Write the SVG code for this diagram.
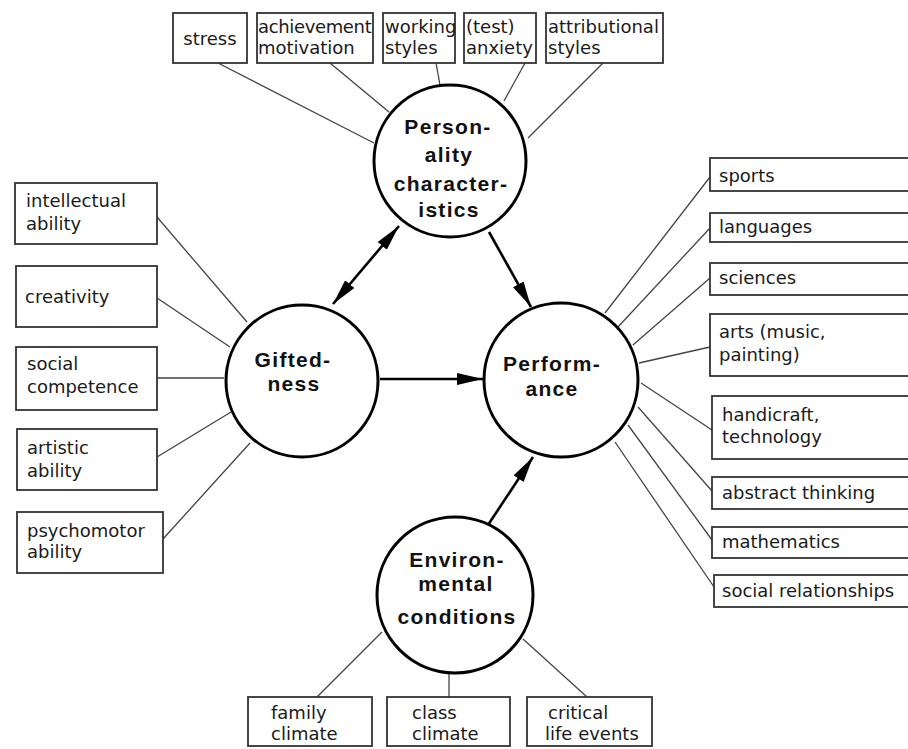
<svg xmlns="http://www.w3.org/2000/svg" width="908" height="749" viewBox="0 0 908 749">
<defs>
<style>
.box{fill:#fff;stroke:#333;stroke-width:1.8}
.t{font-family:"DejaVu Sans",sans-serif;font-size:18px;fill:#1a1a1a}
.c{fill:#fff;stroke:#000;stroke-width:3}
.ct{font-family:"Liberation Sans",Arial,sans-serif;font-size:21px;letter-spacing:1.3px;font-weight:bold;fill:#111;text-anchor:middle}
.ln{stroke:#444;stroke-width:1.3;fill:none}
.ar{stroke:#000;stroke-width:2.6;fill:none}
</style>
<marker id="ah" markerUnits="userSpaceOnUse" markerWidth="26" markerHeight="12" refX="26" refY="6" orient="auto-start-reverse">
<path d="M0,0 L26,6 L0,12 Z" fill="#000"/>
</marker>
</defs>
<rect width="908" height="749" fill="#fff"/>

<g id="connectors">
<line class="ln" x1="218" y1="63" x2="374" y2="143"/>
<line class="ln" x1="330" y1="63" x2="389" y2="112"/>
<line class="ln" x1="436" y1="63" x2="440" y2="85"/>
<line class="ln" x1="525" y1="63" x2="504" y2="101"/>
<line class="ln" x1="603" y1="63" x2="528" y2="138"/>
<line class="ln" x1="157" y1="217" x2="247" y2="322"/>
<line class="ln" x1="157" y1="298" x2="230" y2="347"/>
<line class="ln" x1="157" y1="378" x2="224" y2="378"/>
<line class="ln" x1="157" y1="457" x2="231" y2="412"/>
<line class="ln" x1="163" y1="539" x2="250" y2="443"/>
<line class="ln" x1="710" y1="177" x2="605" y2="313"/>
<line class="ln" x1="710" y1="228" x2="618" y2="327"/>
<line class="ln" x1="710" y1="278" x2="633" y2="345"/>
<line class="ln" x1="710" y1="347" x2="639" y2="363"/>
<line class="ln" x1="712" y1="430" x2="641" y2="383"/>
<line class="ln" x1="712" y1="491" x2="638" y2="407"/>
<line class="ln" x1="712" y1="540" x2="628" y2="425"/>
<line class="ln" x1="714" y1="587" x2="615" y2="442"/>
<line class="ln" x1="317" y1="697" x2="382" y2="632"/>
<line class="ln" x1="449" y1="697" x2="449" y2="673"/>
<line class="ln" x1="587" y1="697" x2="523" y2="639"/>
<line class="ar" x1="380" y1="379" x2="483" y2="379" marker-end="url(#ah)"/>
<line class="ar" x1="333" y1="304" x2="399" y2="226" marker-start="url(#ah)" marker-end="url(#ah)"/>
<line class="ar" x1="489" y1="232" x2="531" y2="307" marker-end="url(#ah)"/>
<line class="ar" x1="488" y1="525" x2="533" y2="457" marker-end="url(#ah)"/>
</g>

<g id="stress"><rect class="box" x="173" y="13" width="74" height="50"/><text class="t" x="210" y="45" text-anchor="middle">stress</text></g>
<g id="achievement"><rect class="box" x="257" y="13" width="116" height="50"/><text class="t" x="258" y="33" letter-spacing="-0.35">achievement</text><text class="t" x="258" y="54">motivation</text></g>
<g id="working"><rect class="box" x="383" y="13" width="72" height="50"/><text class="t" x="385" y="33">working</text><text class="t" x="385" y="54">styles</text></g>
<g id="anxiety"><rect class="box" x="464" y="13" width="72" height="50"/><text class="t" x="466" y="33">(test)</text><text class="t" x="466" y="54">anxiety</text></g>
<g id="attributional"><rect class="box" x="546" y="13" width="117" height="50"/><text class="t" x="548" y="33">attributional</text><text class="t" x="548" y="54">styles</text></g>

<g id="intellectual"><rect class="box" x="15" y="183" width="142" height="61"/><text class="t" x="26" y="207">intellectual</text><text class="t" x="26" y="230">ability</text></g>
<g id="creativity"><rect class="box" x="16" y="266" width="141" height="61"/><text class="t" x="25" y="303">creativity</text></g>
<g id="social-competence"><rect class="box" x="16" y="347" width="141" height="63"/><text class="t" x="27" y="370">social</text><text class="t" x="27" y="393">competence</text></g>
<g id="artistic"><rect class="box" x="17" y="429" width="140" height="61"/><text class="t" x="27" y="454">artistic</text><text class="t" x="27" y="477">ability</text></g>
<g id="psychomotor"><rect class="box" x="17" y="512" width="146" height="61"/><text class="t" x="27" y="537">psychomotor</text><text class="t" x="27" y="558">ability</text></g>

<g id="sports"><rect class="box" x="710" y="158" width="202" height="33"/><text class="t" x="719" y="182">sports</text></g>
<g id="languages"><rect class="box" x="710" y="213" width="202" height="29"/><text class="t" x="719" y="233">languages</text></g>
<g id="sciences"><rect class="box" x="710" y="263" width="202" height="32"/><text class="t" x="719" y="284">sciences</text></g>
<g id="arts"><rect class="box" x="710" y="314" width="202" height="62"/><text class="t" x="719" y="338">arts (music,</text><text class="t" x="719" y="361">painting)</text></g>
<g id="handicraft"><rect class="box" x="712" y="396" width="200" height="63"/><text class="t" x="722" y="421">handicraft,</text><text class="t" x="722" y="443">technology</text></g>
<g id="abstract"><rect class="box" x="712" y="477" width="200" height="32"/><text class="t" x="722" y="499">abstract thinking</text></g>
<g id="mathematics"><rect class="box" x="712" y="527" width="200" height="31"/><text class="t" x="722" y="548">mathematics</text></g>
<g id="social-relationships"><rect class="box" x="714" y="575" width="198" height="32"/><text class="t" x="722" y="597">social relationships</text></g>

<g id="family"><rect class="box" x="248" y="697" width="124" height="49"/><text class="t" x="271" y="719">family</text><text class="t" x="271" y="740">climate</text></g>
<g id="class"><rect class="box" x="387" y="697" width="123" height="49"/><text class="t" x="412" y="719">class</text><text class="t" x="412" y="740">climate</text></g>
<g id="critical"><rect class="box" x="527" y="697" width="125" height="49"/><text class="t" x="548" y="719">critical</text><text class="t" x="545" y="740">life events</text></g>

<g id="personality"><circle class="c" cx="450" cy="161" r="76"/><text class="ct" x="448" y="134">Person-</text><text class="ct" x="449" y="162">ality</text><text class="ct" x="451" y="191">character-</text><text class="ct" x="449" y="217">istics</text></g>
<g id="giftedness"><circle class="c" cx="302" cy="381" r="76"/><text class="ct" x="293" y="367">Gifted-</text><text class="ct" x="294" y="391">ness</text></g>
<g id="performance"><circle class="c" cx="561" cy="380" r="77"/><text class="ct" x="552" y="371">Perform-</text><text class="ct" x="552" y="396">ance</text></g>
<g id="environmental"><circle class="c" cx="455" cy="595" r="78"/><text class="ct" x="457" y="567">Environ-</text><text class="ct" x="456" y="591">mental</text><text class="ct" x="457" y="624">conditions</text></g>
</svg>
